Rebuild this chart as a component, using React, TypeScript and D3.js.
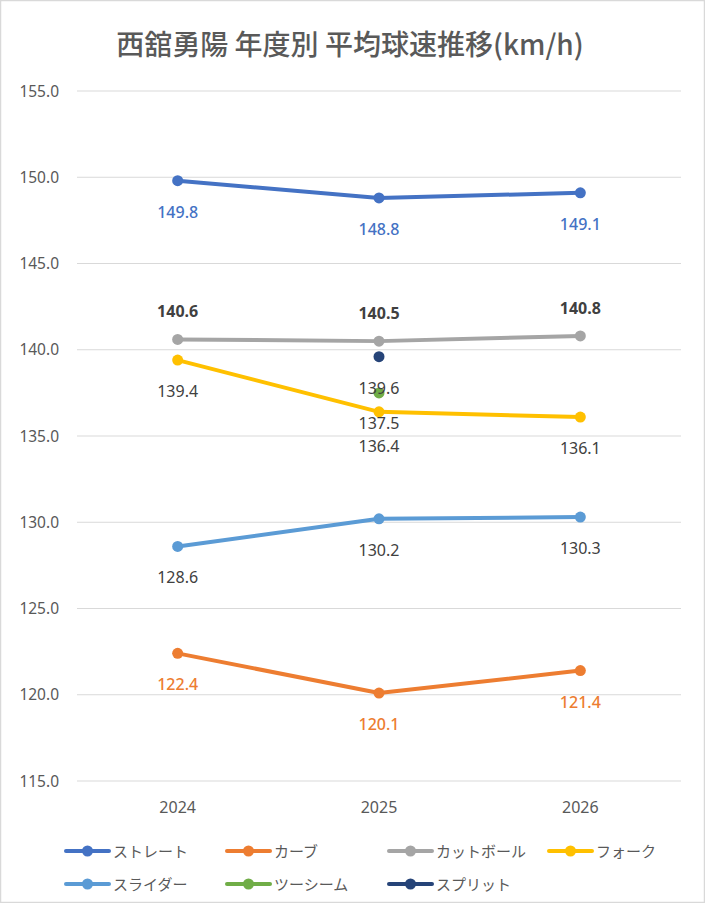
import { useEffect, useRef } from "react";
import * as d3 from "d3";

// Chart data
const years = ["2024", "2025", "2026"];
const pitchNames = ["ストレート", "カーブ", "カットボール", "フォーク", "スライダー", "ツーシーム", "スプリット"];
const straight = [149.8, 148.8, 149.1];
const curve = [122.4, 120.1, 121.4];
const cutter = [140.6, 140.5, 140.8];
const fork = [139.4, 136.4, 136.1];
const slider = [128.6, 130.2, 130.3];
const twoSeam = [null, 137.5, null];
const split = [null, 139.6, null];
const yTicks = [115, 120, 125, 130, 135, 140, 145, 150, 155];

const colors = ["#4472C4", "#ED7D31", "#A5A5A5", "#FFC000", "#5B9BD5", "#70AD47", "#264478"];

export default function App(): JSX.Element {
    const svgRef = useRef<SVGSVGElement>(null);
    const width = 705;
    const height = 903;

    useEffect(() => {
        const svg = d3.select(svgRef.current);
        svg.selectAll("*").remove();

        const font = "'Noto Sans', 'Noto Sans CJK JP', sans-serif";
        const jpFont = "'Noto Sans CJK JP', sans-serif";

        // background and border
        svg.append("rect")
            .attr("x", 0.5).attr("y", 0.5)
            .attr("width", width - 1).attr("height", height - 1)
            .attr("fill", "#ffffff")
            .attr("stroke", "#d9d9d9")
            .attr("stroke-width", 1.5);

        const x = d3.scaleBand<string>().domain(years).range([77, 681]);
        const y = d3.scaleLinear().domain([115, 155]).range([781, 91]);
        const cx = (yr: string) => (x(yr) as number) + x.bandwidth() / 2;

        // title
        svg.append("text")
            .attr("x", 350).attr("y", 55)
            .attr("text-anchor", "middle")
            .attr("font-family", jpFont)
            .attr("font-size", 28)
            .attr("font-weight", 500)
            .attr("fill", "#595959")
            .text("西舘勇陽 年度別 平均球速推移(km/h)");

        // gridlines
        svg.append("g").selectAll("line")
            .data(yTicks)
            .enter().append("line")
            .attr("x1", 77).attr("x2", 681)
            .attr("y1", d => y(d)).attr("y2", d => y(d))
            .attr("stroke", "#d9d9d9")
            .attr("stroke-width", 1);

        // y tick labels
        svg.append("g").selectAll("text")
            .data(yTicks)
            .enter().append("text")
            .attr("x", 59).attr("y", d => y(d) + 5.5)
            .attr("text-anchor", "end")
            .attr("font-family", font)
            .attr("font-size", 15.5)
            .attr("fill", "#595959")
            .text(d => d.toFixed(1));

        // x tick labels
        svg.append("g").selectAll("text")
            .data(years)
            .enter().append("text")
            .attr("x", d => cx(d)).attr("y", 813)
            .attr("text-anchor", "middle")
            .attr("font-family", font)
            .attr("font-size", 16)
            .attr("fill", "#595959")
            .text(d => d);

        const series = [straight, curve, cutter, fork, slider, twoSeam, split];
        // label placement: +1 below, -1 above
        const labelPos = [1, 1, -1, 1, 1, 1, 1];
        const labelColor = ["#4472C4", "#ED7D31", "#404040", "#404040", "#404040", "#404040", "#404040"];
        const labelWeight = [500, 500, 700, 400, 400, 400, 400];
        // small nudges so the crowded 2025 labels don't collide
        const labelNudge: Record<string, number> = { "3-2025": 3, "5-2025": -1 };

        const line = d3.line<[string, number | null]>()
            .defined(d => d[1] !== null)
            .x(d => cx(d[0]))
            .y(d => y(d[1] as number));

        series.forEach((vals, i) => {
            const pts: [string, number | null][] = years.map((yr, j) => [yr, vals[j]]);
            const g = svg.append("g");
            g.append("path")
                .attr("d", line(pts))
                .attr("fill", "none")
                .attr("stroke", colors[i])
                .attr("stroke-width", 4)
                .attr("stroke-linejoin", "round")
                .attr("stroke-linecap", "round");
            g.selectAll("circle")
                .data(pts.filter(d => d[1] !== null))
                .enter().append("circle")
                .attr("cx", d => cx(d[0]))
                .attr("cy", d => y(d[1] as number))
                .attr("r", 5.5)
                .attr("fill", colors[i]);
        });

        // data labels drawn on top
        series.forEach((vals, i) => {
            const pts: [string, number | null][] = years.map((yr, j) => [yr, vals[j]]);
            svg.append("g").selectAll("text")
                .data(pts.filter(d => d[1] !== null))
                .enter().append("text")
                .attr("x", d => cx(d[0]))
                .attr("y", d => y(d[1] as number) + (labelPos[i] > 0 ? 37 : -22) + (labelNudge[`${i}-${d[0]}`] ?? 0))
                .attr("text-anchor", "middle")
                .attr("font-family", font)
                .attr("font-size", 16)
                .attr("font-weight", labelWeight[i])
                .attr("fill", labelColor[i])
                .text(d => (d[1] as number).toFixed(1));
        });

        // legend
        const legendCols = [66, 227, 389, 549];
        const legendRows = [851, 884];
        const legend = svg.append("g");
        pitchNames.forEach((name, i) => {
            const lx = legendCols[i % 4];
            const ly = legendRows[Math.floor(i / 4)];
            legend.append("line")
                .attr("x1", lx).attr("x2", lx + 43)
                .attr("y1", ly).attr("y2", ly)
                .attr("stroke", colors[i])
                .attr("stroke-width", 4)
                .attr("stroke-linecap", "round");
            legend.append("circle")
                .attr("cx", lx + 21.5).attr("cy", ly)
                .attr("r", 5.5)
                .attr("fill", colors[i]);
            legend.append("text")
                .attr("x", lx + 47).attr("y", ly + 5.5)
                .attr("font-family", jpFont)
                .attr("font-size", 15)
                .attr("fill", "#595959")
                .text(name);
        });
    }, []);

    return (
        <svg
            ref={svgRef}
            width={width}
            height={height}
            style={{ position: "absolute", left: 0, top: 0 }}
        />
    );
}
